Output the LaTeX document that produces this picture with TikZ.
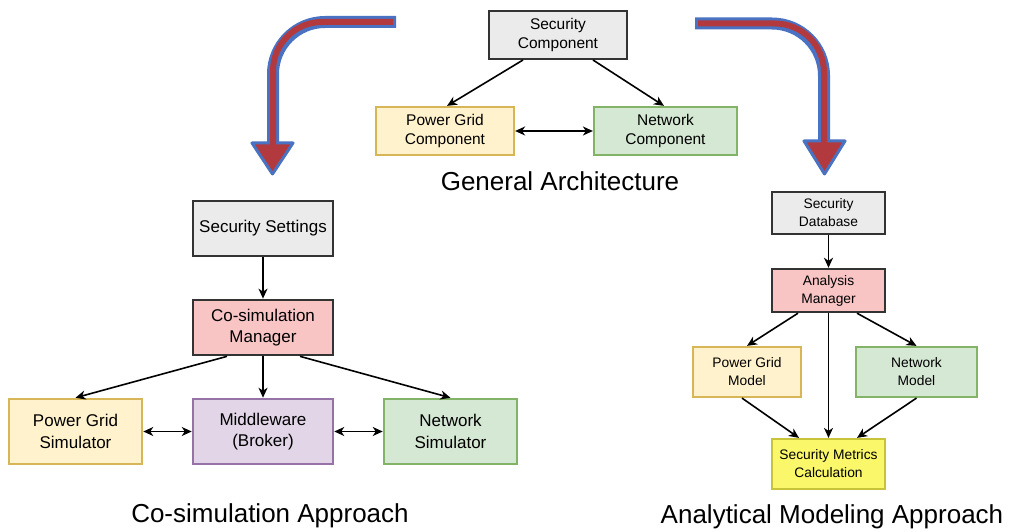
\documentclass[tikz,border=0pt]{standalone}
\usepackage{fontspec}
\setmainfont{Liberation Sans}
\usetikzlibrary{arrows.meta}

\definecolor{grayfill}{HTML}{EBEBEB}
\definecolor{grayline}{HTML}{333333}
\definecolor{pinkfill}{HTML}{F8C4C4}
\definecolor{yelfill}{HTML}{FFF2CC}
\definecolor{yelline}{HTML}{D6B656}
\definecolor{grnfill}{HTML}{D5E8D4}
\definecolor{grnline}{HTML}{82B366}
\definecolor{purfill}{HTML}{E1D5E7}
\definecolor{purline}{HTML}{9673A6}
\definecolor{notefill}{HTML}{FAF76A}
\definecolor{noteline}{HTML}{C8C43A}
\definecolor{bigred}{HTML}{B23A3E}
\definecolor{bigblue}{HTML}{4A72C2}

\tikzset{
  box/.style={align=center, inner sep=0pt, line width=2.2pt},
  topfont/.style={font=\fontsize{15.5}{19}\selectfont},
  simfont/.style={font=\fontsize{17}{21.5}\selectfont},
  anafont/.style={font=\fontsize{13.8}{18}\selectfont},
  capfont/.style={font=\fontsize{26}{30}\selectfont},
  graybox/.style={box, fill=grayfill, draw=grayline},
  pinkbox/.style={box, fill=pinkfill, draw=grayline},
  yelbox/.style={box, fill=yelfill, draw=yelline},
  grnbox/.style={box, fill=grnfill, draw=grnline},
  purbox/.style={box, fill=purfill, draw=purline},
  notebox/.style={box, fill=notefill, draw=noteline},
  tip/.style={Stealth[length=10pt,width=9pt,inset=3pt]},
  arr/.style={line width=1.6pt, -{Stealth[length=10pt,width=9pt,inset=3pt]}},
  dblarr/.style={line width=1.6pt, {Stealth[length=10pt,width=9pt,inset=3pt]}-{Stealth[length=10pt,width=9pt,inset=3pt]}},
  bigout/.style={draw=bigblue, line width=12pt, rounded corners=52pt},
  bigin/.style={draw=bigred, line width=6pt, rounded corners=49pt},
  bighead/.style={fill=bigred, draw=bigblue, line width=3pt, line join=round},
}

\begin{document}
\begin{tikzpicture}[x=1pt, y=-1pt]
\useasboundingbox (0,0) rectangle (1013,532);

% ---- general architecture ----
\node[graybox, topfont, line width=2pt, minimum width=138pt, minimum height=48pt] (sc) at (558,35) {Security\\Component};
\node[yelbox, topfont, minimum width=138pt, minimum height=48pt] (pg) at (445,131) {Power Grid\\Component};
\node[grnbox, topfont, minimum width=143pt, minimum height=48pt] (nc) at (665.5,131) {Network\\Component};
\node[capfont] (gcap) at (560,181) {General Architecture};

\draw[arr] ([xshift=-35pt]sc.south) -- ([xshift=2pt]pg.north);
\draw[arr] ([xshift=35pt]sc.south) -- ([xshift=-1.5pt]nc.north);
\draw[dblarr] (pg.east) -- (nc.west);

% ---- co-simulation approach ----
\node[graybox, simfont, line width=2.7pt, minimum width=140pt, minimum height=55pt] (ss) at (263,228.5) {Security Settings};
\node[pinkbox, simfont, line width=2.7pt, minimum width=140pt, minimum height=55pt] (cm) at (263,327.5) {Co-simulation\\Manager};
\node[yelbox, simfont, line width=2.5pt, minimum width=133pt, minimum height=65pt] (pgs) at (75.5,431.5) {Power Grid\\Simulator};
\node[purbox, simfont, line width=2.5pt, minimum width=140pt, minimum height=65pt] (mw) at (263,431.5) {Middleware\\(Broker)};
\node[grnbox, simfont, line width=2.5pt, minimum width=133pt, minimum height=65pt] (ns) at (450.5,431.5) {Network\\Simulator};
\node[capfont] (ccap) at (270,516) {Co-simulation Approach};

\draw[arr] (ss.south) -- (cm.north);
\draw[arr] ([xshift=-36pt]cm.south) -- (pgs.north);
\draw[arr] (cm.south) -- (mw.north);
\draw[arr] ([xshift=37pt]cm.south) -- (ns.north);
\draw[dblarr] (pgs.east) -- (mw.west);
\draw[dblarr] (mw.east) -- (ns.west);

% ---- analytical modeling approach ----
\node[graybox, anafont, line width=2.4pt, minimum width=113pt, minimum height=42pt] (db) at (828.5,213) {Security\\Database};
\node[pinkbox, anafont, line width=2.4pt, minimum width=113pt, minimum height=43pt] (am) at (828.5,290.5) {Analysis\\Manager};
\node[yelbox, anafont, minimum width=108pt, minimum height=50pt] (pgm) at (747,372) {Power Grid\\Model};
\node[grnbox, anafont, minimum width=121pt, minimum height=50pt] (nm) at (916.5,372) {Network\\Model};
\node[notebox, anafont, minimum width=113pt, minimum height=50pt] (smc) at (828.5,464) {Security Metrics\\Calculation};
\node[capfont] (acap) at (832,517) {Analytical Modeling Approach};

\draw[arr] (db.south) -- (am.north);
\draw[arr] ([xshift=-30.5pt]am.south) -- (pgm.north);
\draw[arr] (am.south) -- (smc.north);
\draw[arr] ([xshift=28.5pt]am.south) -- (nm.north);
\draw[arr] ([xshift=-5pt]pgm.south) -- ([xshift=-29.5pt]smc.north);
\draw[arr] (nm.south) -- ([xshift=28.5pt]smc.north);

% ---- big curved arrows ----
% left: from the general architecture down to the co-simulation branch
\draw[bigout] (396,22) -| (273,143);
\draw[bighead] (252,143) -- (293,143) -- (272.5,174) -- cycle;
\draw[bigin] (393,22) -| (273,147);
% right: down to the analytical branch
\draw[bigout] (695,23.5) -| (824,141);
\draw[bighead] (804,141) -- (845,141) -- (824.5,174) -- cycle;
\draw[bigin] (698,23.5) -| (824,145);
\end{tikzpicture}
\end{document}
